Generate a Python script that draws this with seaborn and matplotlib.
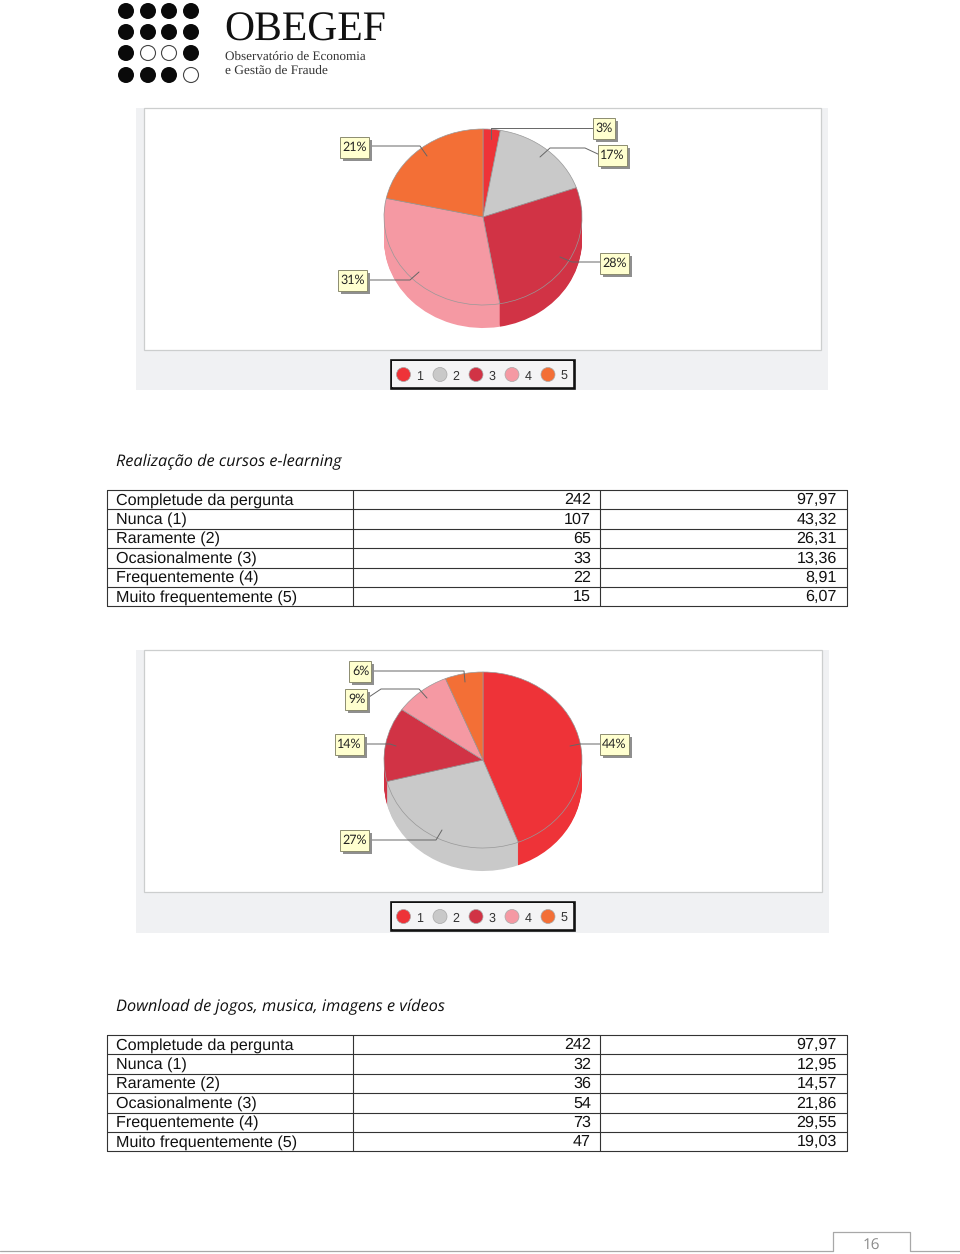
import seaborn as sns
import matplotlib.pyplot as plt
from matplotlib.patches import Rectangle, Circle

# Percentages of the two pies
categories = ['1', '2', '3', '4', '5']
pie1_values = [2.8, 16.8, 27.7, 31.1, 21.6]
pie2_values = [43.32, 26.31, 13.36, 8.91, 6.07]
colors = ['#ee3338', '#c9c9c9', '#d13345', '#f599a3', '#f36f36']

# Tables under the pies
row_labels = ['Completude da pergunta', 'Nunca (1)', 'Raramente (2)',
              'Ocasionalmente (3)', 'Frequentemente (4)', 'Muito frequentemente (5)']
table1_counts = ['242', '107', '65', '33', '22', '15']
table1_pct = ['97,97', '43,32', '26,31', '13,36', '8,91', '6,07']
table2_counts = ['242', '32', '36', '54', '73', '47']
table2_pct = ['97,97', '12,95', '14,57', '21,86', '29,55', '19,03']
title1 = 'Realização de cursos e-learning'
title2 = 'Download de jogos, musica, imagens e vídeos'

W, H = 960, 1254
sns.set_theme(style='white')
plt.rcParams['font.family'] = ['Liberation Sans', 'DejaVu Sans']
plt.rcParams['text.hinting'] = 'no_hinting'
fig = plt.figure(figsize=(W / 100, H / 100), dpi=100, facecolor='white')


def pixel_axes(z):
    ax = fig.add_axes([0, 0, 1, 1], zorder=z)
    ax.set_xlim(0, W)
    ax.set_ylim(H, 0)
    ax.axis('off')
    return ax


back = pixel_axes(0)
top = pixel_axes(5)


def draw_pie(values, cx, cy, rx=99, ry=88, depth=23):
    ax = fig.add_axes([(cx - 1.25 * rx) / W, (H - (cy + 1.6 * ry)) / H,
                       2.5 * rx / W, 2.85 * ry / H], zorder=2)
    # side of the pie, stacked from the bottom up
    for d in range(depth, 0, -1):
        ax.pie(values, colors=colors, startangle=90, counterclock=False,
               center=(0, -d / ry), wedgeprops={'linewidth': 0})
    # thin grey outline on the top face
    ax.pie(values, colors=colors, startangle=90, counterclock=False,
           center=(0, 0), wedgeprops={'edgecolor': '#989898', 'linewidth': 0.5})
    ax.set_aspect('auto')
    ax.set_xlim(-1.25, 1.25)
    ax.set_ylim(-1.6, 1.25)
    ax.patch.set_alpha(0)


def draw_panel(x0, y0, x1, y_plot, y1):
    back.add_patch(Rectangle((x0, y0), x1 - x0, y1 - y0, fc='#f0f1f3', ec='none'))
    back.add_patch(Rectangle((x0 + 8, y0), x1 - x0 - 15, y_plot - y0, fc='white',
                             ec='#cccece', lw=0.9))


def draw_legend(y):
    top.add_patch(Rectangle((391, y), 182.5, 27.5, fc='white', ec='#111111', lw=1.9, zorder=3))
    top.add_patch(Rectangle((392, y + 1), 180.5, 25.5, fc='#f4f4f5', ec='none', zorder=3))
    for name, c, x in zip(categories, colors, [403.5, 440, 476, 512, 548]):
        top.add_patch(Circle((x, y + 14.5), 7, fc=c, ec='#a8a8a8', lw=0.5, zorder=4))
        top.text(x + 16, y + 15.5, name, fontsize=9, color='#333333', ha='center',
                 va='center_baseline', zorder=4)


def draw_callout(text, cx, cy, w, h, line):
    xs, ys = zip(*line)
    top.plot(xs, ys, color='#666666', lw=0.7, zorder=3)
    top.add_patch(Rectangle((cx - w / 2 + 3, cy - h / 2 + 3), w, h, fc='#8f8f8f', ec='none', zorder=4))
    top.add_patch(Rectangle((cx - w / 2, cy - h / 2), w, h, fc='#ffffcf', ec='#8c8c70', lw=0.7, zorder=5))
    top.text(cx + 0.5, cy + 0.7, text, fontsize=9, family='Lato', color='#222222',
             ha='center', va='center', zorder=6)


def draw_table(y0, counts, pct):
    row_h = 19.4
    for i in range(7):
        top.plot([107, 846.5], [y0 + i * row_h] * 2, color='#333333', lw=0.8)
    for x in [107, 353, 600, 846.5]:
        top.plot([x, x], [y0, y0 + 6 * row_h], color='#333333', lw=0.8)
    for i, label in enumerate(row_labels):
        y = y0 + (i + 0.5) * row_h + 0.5
        top.text(116, y, label, fontsize=11.6, color='#111111', va='center')
        top.text(591, y, counts[i], fontsize=11.6, color='#111111', va='center', ha='right')
        top.text(837, y, pct[i], fontsize=11.6, color='#111111', va='center', ha='right')


# Logo
logo_hollow = {(1, 2), (2, 2), (3, 3)}
for row, y in enumerate([11, 32, 53, 75]):
    for col, x in enumerate([126, 148, 169, 191]):
        if (col, row) in logo_hollow:
            top.add_patch(Circle((x, y), 7.5, fc='white', ec='#444444', lw=0.8))
        else:
            top.add_patch(Circle((x, y), 8, fc='#0a0a0a', ec='none'))
top.text(224, 30, 'OBEGEF', family='Liberation Serif', fontsize=30, color='#111111', va='center')
top.text(225, 56.5, 'Observatório de Economia', family='Liberation Serif', fontsize=9.45,
         color='#333333', va='center')
top.text(225, 70.5, 'e Gestão de Fraude', family='Liberation Serif', fontsize=9.6,
         color='#333333', va='center')

# First chart
draw_panel(136, 108, 828, 350, 390)
draw_pie(pie1_values, 483, 217)
draw_legend(360)
draw_callout('3%', 604, 128, 22, 21, [(491, 139), (491, 128), (595, 128)])
draw_callout('17%', 612, 155, 29, 21, [(540, 157), (550, 148), (585, 148), (600, 155)])
draw_callout('21%', 354, 147, 29, 21, [(365, 146), (420, 146), (427, 156)])
draw_callout('28%', 614, 263, 29, 21, [(560, 257), (572, 262), (602, 262)])
draw_callout('31%', 352, 280, 29, 21, [(365, 280), (410, 280), (419, 272)])

top.text(116, 462, title1, family='Open Sans', style='italic', fontsize=11.7,
         color='#111111', va='center')
draw_table(490, table1_counts, table1_pct)

# Second chart
draw_panel(136, 650, 829, 892, 933)
draw_pie(pie2_values, 483, 760)
draw_legend(902)
draw_callout('6%', 360, 671, 22, 21, [(368, 671), (464, 671), (465, 682)])
draw_callout('9%', 356, 699, 22, 21, [(366, 699), (381, 689), (419, 689), (427, 698)])
draw_callout('14%', 349, 744, 29, 21, [(362, 744), (390, 744), (396, 746)])
draw_callout('44%', 614, 744, 29, 21, [(602, 744), (580, 744), (570, 746)])
draw_callout('27%', 354, 840, 29, 21, [(367, 840), (436, 840), (442, 830)])

top.text(116, 1007, title2, family='Open Sans', style='italic', fontsize=11.76,
         color='#111111', va='center')
draw_table(1035, table2_counts, table2_pct)

# Footer
top.plot([0, 833, 833, 910, 910, 960], [1251, 1251, 1232, 1232, 1251, 1251], color='#a8a8a8', lw=0.9)
top.text(871, 1245.5, '16', fontsize=11, family='Open Sans', color='#8a8a8a', ha='center', va='center')

fig.savefig('out.png', dpi=100)
